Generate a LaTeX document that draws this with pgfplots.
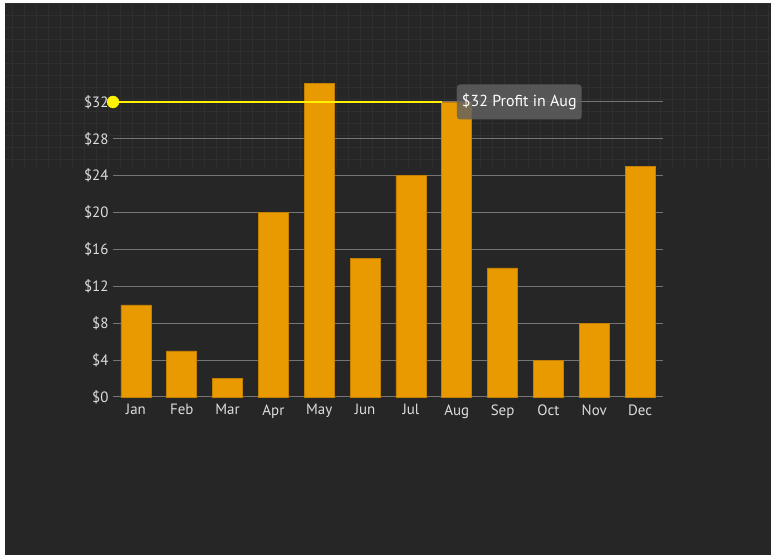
\documentclass[border=0pt]{standalone}
\usepackage{pgfplots}
\pgfplotsset{compat=1.18}
\usepackage{fontspec}
\setmainfont{PT Sans}
\definecolor{bg}{HTML}{262626}
\definecolor{bgline}{HTML}{2F2F2F}
\definecolor{barc}{HTML}{E89A00}
\definecolor{baredge}{HTML}{C28000}
\definecolor{gridc}{HTML}{747474}
\definecolor{lbl}{HTML}{DDDDDD}
\definecolor{tip}{HTML}{616161}
\definecolor{hl}{HTML}{FFF200}

\begin{document}
\begin{tikzpicture}
% page background
\fill[white] (0bp,0bp) rectangle (771bp,555bp);
\fill[bg] (5bp,0bp) rectangle (771bp,552bp);
\begin{scope}
  \clip (5bp,388bp) rectangle (771bp,552bp);
  \draw[bgline, line width=0.8bp, step=12bp] (5bp,384bp) grid (771bp,552bp);
\end{scope}

\begin{axis}[
  at={(113bp,158bp)}, anchor=south west,
  scale only axis, width=550bp, height=295bp,
  xmin=-0.5, xmax=11.5, ymin=0, ymax=32,
  clip=false,
  axis line style={draw=none},
  major tick length=0pt,
  ymajorgrids,
  grid style={gridc, line width=1bp},
  xtick={0,...,11},
  xticklabels={Jan,Feb,Mar,Apr,May,Jun,Jul,Aug,Sep,Oct,Nov,Dec},
  ytick={0,4,...,32},
  yticklabels={\$0,\$4,\$8,\$12,\$16,\$20,\$24,\$28,\$32},
  tick label style={text=lbl, font=\fontsize{15}{18}\selectfont},
  xticklabel style={yshift=-4bp},
  yticklabel style={xshift=-1bp},
]
\addplot[ybar, bar width=30bp, fill=barc, draw=baredge, line width=0.6bp]
  coordinates {(0,10) (1,5) (2,2) (3,20) (4,34) (5,15) (6,24) (7,32) (8,14) (9,4) (10,8) (11,25)};

% highlight line to the hovered value
\addplot[sharp plot, hl, line width=1.2bp, no marks]
  coordinates {(-0.5,32) (6.67,32)};
\addplot[only marks, mark=*, mark size=6bp, mark options={fill=hl, draw=hl}]
  coordinates {(-0.5,32)};

\node[fill=tip, fill opacity=0.82, text opacity=1, text=white,
      rounded corners=3bp, anchor=west, minimum height=35bp, inner xsep=5bp,
      font=\fontsize{16}{19}\selectfont]
  at (axis cs:7,32) {\$32 Profit in Aug};
\end{axis}
\end{tikzpicture}
\end{document}
